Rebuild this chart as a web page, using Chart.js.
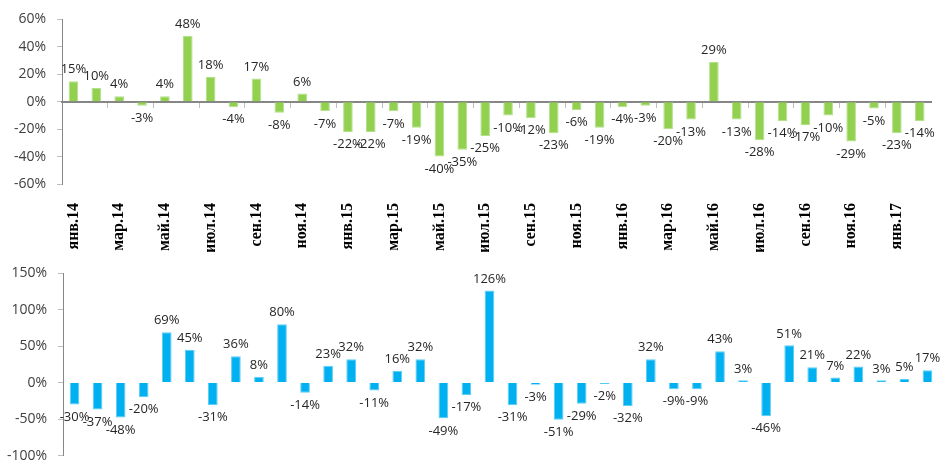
<!DOCTYPE html>
<html lang="ru">
  <head>
    <meta charset="UTF-8" />
    <title>Динамика</title>
    <script src="https://cdn.jsdelivr.net/npm/chart.js@4.4.0/dist/chart.umd.min.js"></script>
    <style>
      body { margin: 0; background: #fff; overflow: hidden; }
      .box { position: absolute; left: 0; width: 950px; }
      #topBox { top: 0; height: 252px; }
      #bottomBox { top: 250px; height: 225px; }
    </style>
  </head>
  <body>
    <div class="box" id="topBox"><canvas id="topChart"></canvas></div>
    <div class="box" id="bottomBox"><canvas id="bottomChart"></canvas></div>

    <script>
      const months = [
        "янв.14", "фев.14", "мар.14", "апр.14", "май.14", "июн.14", "июл.14", "авг.14", "сен.14", "окт.14", "ноя.14", "дек.14",
        "янв.15", "фев.15", "мар.15", "апр.15", "май.15", "июн.15", "июл.15", "авг.15", "сен.15", "окт.15", "ноя.15", "дек.15",
        "янв.16", "фев.16", "мар.16", "апр.16", "май.16", "июн.16", "июл.16", "авг.16", "сен.16", "окт.16", "ноя.16", "дек.16",
        "янв.17", "фев.17"
      ];

      const topValues = [
        15, 10, 4, -3, 4, 48, 18, -4, 17, -8, 6, -7,
        -22, -22, -7, -19, -40, -35, -25, -10, -12, -23, -6, -19,
        -4, -3, -20, -13, 29, -13, -28, -14, -17, -10, -29, -5,
        -23, -14
      ];

      const bottomValues = [
        -30, -37, -48, -20, 69, 45, -31, 36, 8, 80, -14, 23,
        32, -11, 16, 32, -49, -17, 126, -31, -3, -51, -29, -2,
        -32, 32, -9, -9, 43, 3, -46, 51, 21, 7, 22, 3,
        5, 17
      ];

      const topTicks = [-60, -40, -20, 0, 20, 40, 60];
      const bottomTicks = [-100, -50, 0, 50, 100, 150];

      const axisGray = "#868686";
      const tickGray = "#bfbfbf";
      const labelFont = { family: "'Open Sans', 'Liberation Sans', sans-serif", size: 13 };

      // подписи значений над/под столбцами
      const valueLabels = {
        id: "valueLabels",
        afterDatasetsDraw(chart) {
          const ctx = chart.ctx;
          const meta = chart.getDatasetMeta(0);
          const data = chart.data.datasets[0].data;
          ctx.save();
          ctx.font = labelFont.size + "px " + labelFont.family;
          ctx.fillStyle = "#262626";
          ctx.textAlign = "center";
          meta.data.forEach((bar, i) => {
            const v = data[i];
            if (v >= 0) {
              ctx.textBaseline = "bottom";
              ctx.fillText(v + "%", bar.x, bar.y - 5);
            } else {
              ctx.textBaseline = "top";
              ctx.fillText(v + "%", bar.x, bar.y + 6);
            }
          });
          ctx.restore();
        },
      };

      function yScale(min, max, ticks, width) {
        return {
          min: min,
          max: max,
          afterBuildTicks: (s) => {
            s.ticks = ticks.map((v) => ({ value: v }));
          },
          afterFit: (s) => {
            s.width = width;
          },
          border: { color: axisGray, width: 1 },
          grid: { drawOnChartArea: false, color: tickGray, tickLength: 5 },
          ticks: {
            padding: 11,
            color: "#404040",
            font: { family: "'Open Sans', 'Liberation Sans', sans-serif", size: 14 },
            callback: (v) => v + "%",
          },
        };
      }

      new Chart(document.getElementById("topChart"), {
        type: "bar",
        data: {
          labels: months,
          datasets: [
            {
              data: topValues,
              backgroundColor: "#92d050",
              borderColor: "#b4e08a",
              borderWidth: 1,
              categoryPercentage: 1,
              barPercentage: 0.42,
            },
          ],
        },
        options: {
          responsive: true,
          maintainAspectRatio: false,
          animation: false,
          layout: { padding: { top: 13, right: 4, left: 0, bottom: 0 } },
          plugins: { legend: { display: false }, tooltip: { enabled: false } },
          scales: {
            x: {
              position: { y: 0 },
              border: { color: axisGray, width: 2 },
              grid: {
                drawOnChartArea: false,
                tickLength: 5,
                color: (c) => (c.index % 2 === 0 && c.index > 0 ? tickGray : "rgba(0,0,0,0)"),
              },
              ticks: { display: false },
            },
            x2: {
              type: "category",
              position: "bottom",
              afterFit: (s) => {
                s.height = 68;
              },
              border: { display: false },
              grid: { display: false },
              ticks: {
                autoSkip: false,
                minRotation: 90,
                maxRotation: 90,
                padding: 11,
                color: "#000",
                font: { family: "'Liberation Serif', 'Times New Roman', serif", size: 16, weight: "bold" },
                callback: function (v, i) {
                  return i % 2 === 0 ? months[i] : "";
                },
              },
            },
            y: yScale(-60, 60, topTicks, 62),
          },
        },
        plugins: [valueLabels],
      });

      new Chart(document.getElementById("bottomChart"), {
        type: "bar",
        data: {
          labels: months,
          datasets: [
            {
              data: bottomValues,
              backgroundColor: "#00b0f0",
              borderColor: "#5ccdf5",
              borderWidth: 1,
              categoryPercentage: 1,
              barPercentage: 0.42,
            },
          ],
        },
        options: {
          responsive: true,
          maintainAspectRatio: false,
          animation: false,
          layout: { padding: { top: 23, right: 11, left: 0, bottom: 0 } },
          plugins: { legend: { display: false }, tooltip: { enabled: false } },
          scales: {
            x: { display: false },
            y: yScale(-100, 150, bottomTicks, 63),
          },
        },
        plugins: [valueLabels],
      });
    </script>
  </body>
</html>
